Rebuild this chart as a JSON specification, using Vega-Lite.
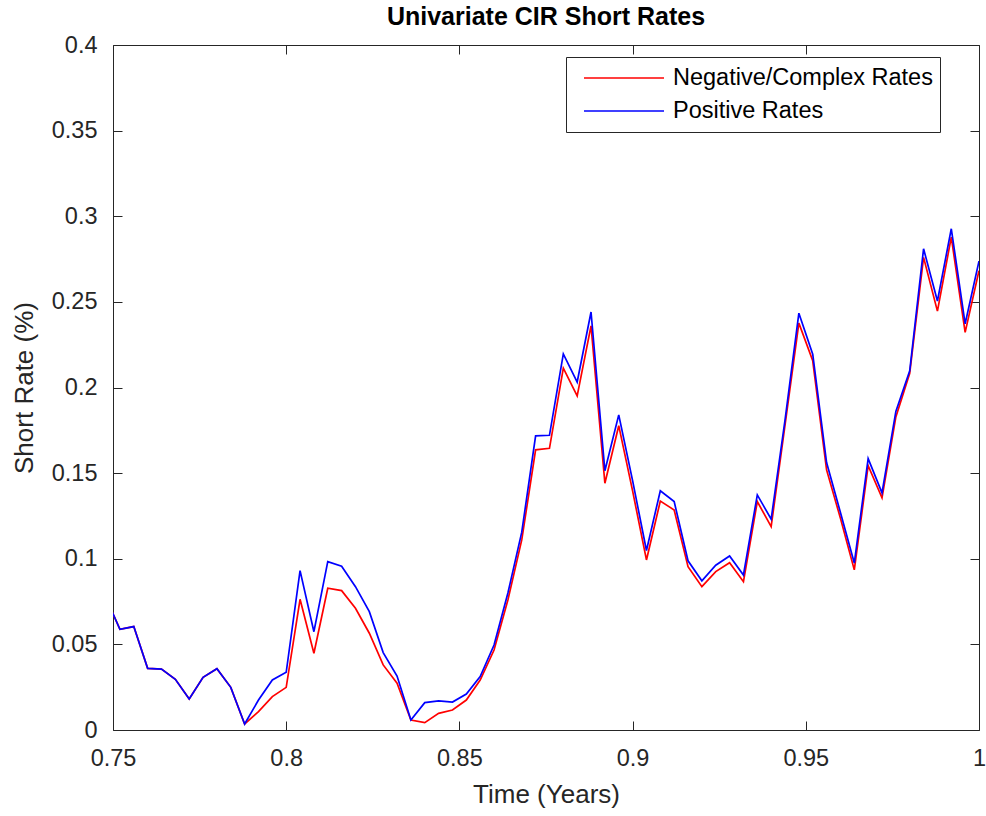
{
  "$schema": "https://vega.github.io/schema/vega-lite/v6.json",
  "autosize": {"type": "none"},
  "width": 866,
  "height": 685,
  "padding": {"left": 113, "top": 45, "right": 7, "bottom": 86},
  "background": "white",
  "title": {"text": "Univariate CIR Short Rates", "font": "Liberation Sans", "fontSize": 25, "fontWeight": "bold", "color": "#000000", "offset": 3, "anchor": "middle"},
  "config": {
    "view": {"stroke": null},
    "font": "Liberation Sans",
    "axis": {"grid": false, "domainColor": "#262626", "domainWidth": 1, "tickColor": "#262626", "tickSize": -9, "labelColor": "#262626", "labelFont": "Liberation Sans", "labelFontSize": 23.5, "titleFont": "Liberation Sans", "titleFontSize": 26, "titleFontWeight": "normal", "titleColor": "#262626", "labelFlush": false, "labelOverlap": false}
  },
  "datasets": {
    "rates": [
      {"t":0.748,"series":"Positive Rates","rate":0.077},
      {"t":0.752,"series":"Positive Rates","rate":0.0588},
      {"t":0.756,"series":"Positive Rates","rate":0.0604},
      {"t":0.760,"series":"Positive Rates","rate":0.036},
      {"t":0.764,"series":"Positive Rates","rate":0.0356},
      {"t":0.768,"series":"Positive Rates","rate":0.0296},
      {"t":0.772,"series":"Positive Rates","rate":0.0181},
      {"t":0.776,"series":"Positive Rates","rate":0.0308},
      {"t":0.780,"series":"Positive Rates","rate":0.0358},
      {"t":0.784,"series":"Positive Rates","rate":0.0249},
      {"t":0.788,"series":"Positive Rates","rate":0.0035},
      {"t":0.792,"series":"Positive Rates","rate":0.0175},
      {"t":0.796,"series":"Positive Rates","rate":0.0292},
      {"t":0.800,"series":"Positive Rates","rate":0.0337},
      {"t":0.804,"series":"Positive Rates","rate":0.0931},
      {"t":0.808,"series":"Positive Rates","rate":0.0574},
      {"t":0.812,"series":"Positive Rates","rate":0.0983},
      {"t":0.816,"series":"Positive Rates","rate":0.0956},
      {"t":0.820,"series":"Positive Rates","rate":0.0837},
      {"t":0.824,"series":"Positive Rates","rate":0.0691},
      {"t":0.828,"series":"Positive Rates","rate":0.0452},
      {"t":0.832,"series":"Positive Rates","rate":0.0315},
      {"t":0.836,"series":"Positive Rates","rate":0.0058},
      {"t":0.840,"series":"Positive Rates","rate":0.016},
      {"t":0.844,"series":"Positive Rates","rate":0.017},
      {"t":0.848,"series":"Positive Rates","rate":0.0163},
      {"t":0.852,"series":"Positive Rates","rate":0.021},
      {"t":0.856,"series":"Positive Rates","rate":0.0312},
      {"t":0.860,"series":"Positive Rates","rate":0.0496},
      {"t":0.864,"series":"Positive Rates","rate":0.080},
      {"t":0.868,"series":"Positive Rates","rate":0.1155},
      {"t":0.872,"series":"Positive Rates","rate":0.1718},
      {"t":0.876,"series":"Positive Rates","rate":0.1721},
      {"t":0.880,"series":"Positive Rates","rate":0.2196},
      {"t":0.884,"series":"Positive Rates","rate":0.2032},
      {"t":0.888,"series":"Positive Rates","rate":0.2441},
      {"t":0.892,"series":"Positive Rates","rate":0.1514},
      {"t":0.896,"series":"Positive Rates","rate":0.184},
      {"t":0.900,"series":"Positive Rates","rate":0.1456},
      {"t":0.904,"series":"Positive Rates","rate":0.1048},
      {"t":0.908,"series":"Positive Rates","rate":0.1397},
      {"t":0.912,"series":"Positive Rates","rate":0.1334},
      {"t":0.916,"series":"Positive Rates","rate":0.0988},
      {"t":0.920,"series":"Positive Rates","rate":0.0871},
      {"t":0.924,"series":"Positive Rates","rate":0.0962},
      {"t":0.928,"series":"Positive Rates","rate":0.1016},
      {"t":0.932,"series":"Positive Rates","rate":0.0905},
      {"t":0.936,"series":"Positive Rates","rate":0.1373},
      {"t":0.940,"series":"Positive Rates","rate":0.1231},
      {"t":0.944,"series":"Positive Rates","rate":0.181},
      {"t":0.948,"series":"Positive Rates","rate":0.2434},
      {"t":0.952,"series":"Positive Rates","rate":0.2195},
      {"t":0.956,"series":"Positive Rates","rate":0.1562},
      {"t":0.960,"series":"Positive Rates","rate":0.127},
      {"t":0.964,"series":"Positive Rates","rate":0.0975},
      {"t":0.968,"series":"Positive Rates","rate":0.1585},
      {"t":0.972,"series":"Positive Rates","rate":0.1385},
      {"t":0.976,"series":"Positive Rates","rate":0.186},
      {"t":0.980,"series":"Positive Rates","rate":0.2097},
      {"t":0.984,"series":"Positive Rates","rate":0.281},
      {"t":0.988,"series":"Positive Rates","rate":0.2505},
      {"t":0.992,"series":"Positive Rates","rate":0.2927},
      {"t":0.996,"series":"Positive Rates","rate":0.2372},
      {"t":1.000,"series":"Positive Rates","rate":0.2738},
      {"t":0.748,"series":"Negative/Complex Rates","rate":0.077},
      {"t":0.752,"series":"Negative/Complex Rates","rate":0.0588},
      {"t":0.756,"series":"Negative/Complex Rates","rate":0.0604},
      {"t":0.760,"series":"Negative/Complex Rates","rate":0.036},
      {"t":0.764,"series":"Negative/Complex Rates","rate":0.0356},
      {"t":0.768,"series":"Negative/Complex Rates","rate":0.0296},
      {"t":0.772,"series":"Negative/Complex Rates","rate":0.0181},
      {"t":0.776,"series":"Negative/Complex Rates","rate":0.0308},
      {"t":0.780,"series":"Negative/Complex Rates","rate":0.0358},
      {"t":0.784,"series":"Negative/Complex Rates","rate":0.0249},
      {"t":0.788,"series":"Negative/Complex Rates","rate":0.0035},
      {"t":0.792,"series":"Negative/Complex Rates","rate":0.0107},
      {"t":0.796,"series":"Negative/Complex Rates","rate":0.0195},
      {"t":0.800,"series":"Negative/Complex Rates","rate":0.0249},
      {"t":0.804,"series":"Negative/Complex Rates","rate":0.0763},
      {"t":0.808,"series":"Negative/Complex Rates","rate":0.0448},
      {"t":0.812,"series":"Negative/Complex Rates","rate":0.0828},
      {"t":0.816,"series":"Negative/Complex Rates","rate":0.0814},
      {"t":0.820,"series":"Negative/Complex Rates","rate":0.0711},
      {"t":0.824,"series":"Negative/Complex Rates","rate":0.0565},
      {"t":0.828,"series":"Negative/Complex Rates","rate":0.038},
      {"t":0.832,"series":"Negative/Complex Rates","rate":0.0273},
      {"t":0.836,"series":"Negative/Complex Rates","rate":0.0058},
      {"t":0.840,"series":"Negative/Complex Rates","rate":0.0043},
      {"t":0.844,"series":"Negative/Complex Rates","rate":0.0097},
      {"t":0.848,"series":"Negative/Complex Rates","rate":0.0117},
      {"t":0.852,"series":"Negative/Complex Rates","rate":0.0175},
      {"t":0.856,"series":"Negative/Complex Rates","rate":0.0292},
      {"t":0.860,"series":"Negative/Complex Rates","rate":0.0467},
      {"t":0.864,"series":"Negative/Complex Rates","rate":0.0759},
      {"t":0.868,"series":"Negative/Complex Rates","rate":0.111},
      {"t":0.872,"series":"Negative/Complex Rates","rate":0.1636},
      {"t":0.876,"series":"Negative/Complex Rates","rate":0.1645},
      {"t":0.880,"series":"Negative/Complex Rates","rate":0.2113},
      {"t":0.884,"series":"Negative/Complex Rates","rate":0.1951},
      {"t":0.888,"series":"Negative/Complex Rates","rate":0.236},
      {"t":0.892,"series":"Negative/Complex Rates","rate":0.1441},
      {"t":0.896,"series":"Negative/Complex Rates","rate":0.1777},
      {"t":0.900,"series":"Negative/Complex Rates","rate":0.1396},
      {"t":0.904,"series":"Negative/Complex Rates","rate":0.0993},
      {"t":0.908,"series":"Negative/Complex Rates","rate":0.1337},
      {"t":0.912,"series":"Negative/Complex Rates","rate":0.1285},
      {"t":0.916,"series":"Negative/Complex Rates","rate":0.0954},
      {"t":0.920,"series":"Negative/Complex Rates","rate":0.0837},
      {"t":0.924,"series":"Negative/Complex Rates","rate":0.0925},
      {"t":0.928,"series":"Negative/Complex Rates","rate":0.0977},
      {"t":0.932,"series":"Negative/Complex Rates","rate":0.0866},
      {"t":0.936,"series":"Negative/Complex Rates","rate":0.1334},
      {"t":0.940,"series":"Negative/Complex Rates","rate":0.1188},
      {"t":0.944,"series":"Negative/Complex Rates","rate":0.178},
      {"t":0.948,"series":"Negative/Complex Rates","rate":0.2376},
      {"t":0.952,"series":"Negative/Complex Rates","rate":0.2156},
      {"t":0.956,"series":"Negative/Complex Rates","rate":0.1519},
      {"t":0.960,"series":"Negative/Complex Rates","rate":0.1236},
      {"t":0.964,"series":"Negative/Complex Rates","rate":0.0935},
      {"t":0.968,"series":"Negative/Complex Rates","rate":0.1543},
      {"t":0.972,"series":"Negative/Complex Rates","rate":0.1356},
      {"t":0.976,"series":"Negative/Complex Rates","rate":0.1828},
      {"t":0.980,"series":"Negative/Complex Rates","rate":0.2083},
      {"t":0.984,"series":"Negative/Complex Rates","rate":0.276},
      {"t":0.988,"series":"Negative/Complex Rates","rate":0.2446},
      {"t":0.992,"series":"Negative/Complex Rates","rate":0.2878},
      {"t":0.996,"series":"Negative/Complex Rates","rate":0.2322},
      {"t":1.000,"series":"Negative/Complex Rates","rate":0.2682}
    ]
  },
  "data": {"name": "rates"},
  "layer": [
    {
      "transform": [{"filter": "datum.series === 'Negative/Complex Rates'"}],
      "mark": {"type": "line", "strokeWidth": 1.7, "clip": true},
      "encoding": {
        "x": {"field": "t", "type": "quantitative", "scale": {"domain": [0.75, 1], "nice": false, "zero": false},
              "axis": {"orient": "bottom", "title": "Time (Years)", "values": [0.75, 0.8, 0.85, 0.9, 0.95, 1], "format": "~g", "labelPadding": 25, "titlePadding": 12}},
        "y": {"field": "rate", "type": "quantitative", "scale": {"domain": [0, 0.4], "nice": false},
              "axis": {"orient": "left", "title": "Short Rate (%)", "values": [0, 0.05, 0.1, 0.15, 0.2, 0.25, 0.3, 0.35, 0.4], "format": "~g", "labelPadding": 25, "titlePadding": 14}},
        "color": {"field": "series", "type": "nominal",
                  "scale": {"domain": ["Negative/Complex Rates", "Positive Rates"], "range": ["#ff0000", "#0000ff"]},
                  "legend": {"title": null, "orient": "none", "legendX": 453, "legendY": 12, "symbolType": "stroke", "symbolSize": 6400, "symbolStrokeWidth": 1.7, "symbolOffset": 10, "labelOffset": 8,
                             "clipHeight": 28, "labelLimit": 0, "labelFontSize": 23.5, "labelFont": "Liberation Sans", "labelColor": "#000000", "strokeColor": "#262626", "fillColor": "white", "padding": 7, "rowPadding": 5}}
      }
    },
    {
      "transform": [{"filter": "datum.series === 'Positive Rates'"}],
      "mark": {"type": "line", "strokeWidth": 1.7, "clip": true},
      "encoding": {
        "x": {"field": "t", "type": "quantitative",
              "axis": {"orient": "top", "title": null, "labels": false, "values": [0.75, 0.8, 0.85, 0.9, 0.95, 1]}},
        "y": {"field": "rate", "type": "quantitative",
              "axis": {"orient": "right", "title": null, "labels": false, "values": [0, 0.05, 0.1, 0.15, 0.2, 0.25, 0.3, 0.35, 0.4]}},
        "color": {"field": "series", "type": "nominal"}
      }
    }
  ],
  "resolve": {"axis": {"x": "independent", "y": "independent"}}
}
